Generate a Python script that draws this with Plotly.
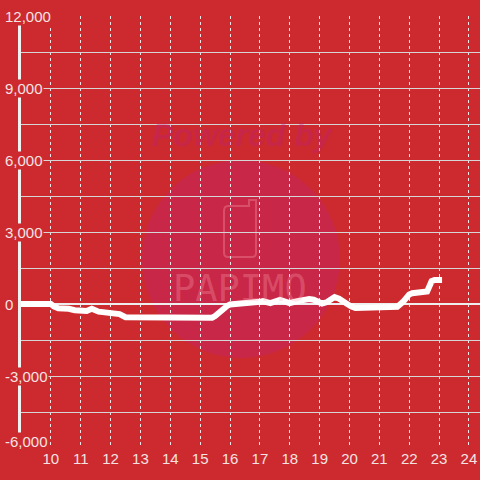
import plotly.graph_objects as go

# ---- data ----
times = [8.87, 10.0, 10.1, 10.25, 10.6, 10.8, 11.2, 11.37, 11.6, 12.1, 12.3, 12.5,
         13.0, 14.0, 15.0, 15.4, 15.5, 15.6, 15.75, 15.9, 16.0, 16.3, 16.6, 17.0,
         17.1, 17.35, 17.67, 18.0, 18.3, 18.65, 18.8, 19.08, 19.25, 19.5, 19.65,
         19.9, 20.05, 20.2, 21.0, 21.5, 21.6, 21.8, 22.0, 22.1, 22.45, 22.6, 22.75,
         22.85, 23.1]
values = [0, 0, -100, -180, -200, -260, -290, -200, -320, -350, -420, -550,
          -560, -580, -580, -570, -500, -380, -200, -80, -20, 0, 20, 90,
          120, 40, 170, 40, 130, 210, 180, 20, 80, 290, 220,
          0, -100, -170, -170, -160, -120, 100, 400, 450, 470, 520, 950,
          1000, 1000]

x_tick_vals = list(range(10, 25))
x_tick_text = [str(v) for v in x_tick_vals]
y_tick_vals = [-6000, -3000, 0, 3000, 6000, 9000, 12000]
y_tick_text = ["-6,000", "-3,000", "0", "3,000", "6,000", "9,000", "12,000"]

BG = "#CC2A2E"
LABEL = "#F3E3E3"
FONT = "Liberation Sans, Arial, sans-serif"

fig = go.Figure()
fig.add_trace(go.Scatter(
    x=times, y=values, mode="lines",
    line=dict(color="#FFFFFF", width=6),
    hoverinfo="skip", showlegend=False,
))

# watermark (decorative, paper coordinates)
shapes = [
    dict(type="circle", xref="paper", yref="paper",
         x0=0.2636, x1=0.695, y0=0.2083, y1=0.6667,
         fillcolor="#C92748", line=dict(width=0), layer="below"),
    dict(type="path", xref="paper", yref="paper",
         path="M 0.4423,0.452 L 0.4423,0.548 Q 0.4423,0.560 0.4510,0.560 "
              "L 0.4967,0.560 L 0.4967,0.574 L 0.5120,0.574 L 0.5120,0.452 "
              "Q 0.5120,0.442 0.5033,0.442 L 0.4510,0.442 Q 0.4423,0.442 0.4423,0.452 Z",
         line=dict(color="rgba(255,170,180,0.3)", width=2), layer="below"),
]

annotations = [
    dict(text="<b><i>Powered by</i></b>", xref="paper", yref="paper",
         x=0.4847, y=0.771, showarrow=False,
         font=dict(family=FONT, size=32, color="rgba(190,30,130,0.33)")),
    dict(text="PAPIMO", xref="paper", yref="paper",
         x=0.477, y=0.370, showarrow=False,
         font=dict(family="DejaVu Sans Mono, monospace", size=37,
                   color="rgba(255,170,180,0.3)")),
]

for i, (v, t) in enumerate(zip(y_tick_vals, y_tick_text)):
    annotations.append(dict(
        text=t, xref="paper", yref="y", x=0, y=v, xanchor="left",
        xshift=-17, yshift=(7 if i == 0 else 0), showarrow=False,
        bgcolor=BG, borderpad=0,
        font=dict(family=FONT, size=15, color=LABEL)))

fig.update_layout(
    width=480, height=480,
    margin=dict(l=21, r=0, t=16, b=32),
    paper_bgcolor=BG, plot_bgcolor=BG,
    shapes=shapes, annotations=annotations,
    showlegend=False,
    xaxis=dict(
        range=[9, 24.37], tickvals=x_tick_vals, ticktext=x_tick_text,
        showgrid=True, gridcolor="#E8E8E8", gridwidth=1, griddash="dot",
        zeroline=False, showline=False, ticks="",
        tickfont=dict(family=FONT, size=15, color=LABEL), fixedrange=True,
    ),
    yaxis=dict(
        range=[-6000, 12000], dtick=1500, tick0=0,
        showgrid=True, gridcolor="#D6D6D6", gridwidth=1,
        zeroline=True, zerolinecolor="#EEEEEE", zerolinewidth=2,
        showline=True, linecolor="#F2F2F2", linewidth=3,
        showticklabels=False, ticks="", fixedrange=True,
    ),
)

fig.write_html(
    "out.html",
    config={"displayModeBar": False, "staticPlot": True},
    post_script="document.body.style.margin='0';document.body.style.background='%s';" % BG,
)
